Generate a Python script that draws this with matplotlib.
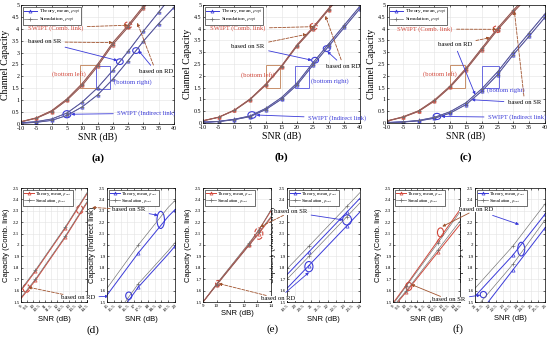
import numpy as np
import matplotlib
matplotlib.use("Agg")
import matplotlib.pyplot as plt
from matplotlib.patches import Ellipse, Rectangle
from matplotlib.lines import Line2D
from matplotlib.ticker import FormatStrFormatter

plt.rcParams['font.family'] = ['Liberation Serif', 'DejaVu Serif']
plt.rcParams['mathtext.fontset'] = 'stix'

W, H = 550, 349

RED = '#d2473a'
BROWN = '#a0522d'
BLUE = '#3a3ad8'
GREY = '#6e6e6e'
BOX = '#c8906a'

# full-range panels (a)-(c)
snr = [-10, -5, 0, 5, 10, 15, 20, 25, 30, 35, 40]

a_comb_sr = [0.10, 0.26, 0.56, 1.05, 1.70, 2.50, 3.42, 4.15, 4.95, 5.80, 6.60]
a_comb_rd = [0.09, 0.24, 0.52, 1.00, 1.62, 2.42, 3.34, 4.07, 4.87, 5.70, 6.50]
a_ind_sr = [0.05, 0.10, 0.21, 0.46, 0.92, 1.52, 2.25, 3.05, 3.90, 4.70, 5.50]
a_ind_rd = [0.03, 0.07, 0.15, 0.36, 0.72, 1.22, 1.88, 2.66, 3.48, 4.22, 4.90]

b_comb_sr = [0.10, 0.25, 0.55, 1.02, 1.65, 2.42, 3.32, 4.05, 4.85, 5.70, 6.50]
b_comb_rd = [0.09, 0.24, 0.53, 0.99, 1.61, 2.38, 3.27, 4.00, 4.80, 5.60, 6.40]
b_ind_sr = [0.03, 0.07, 0.16, 0.30, 0.62, 1.08, 1.70, 2.55, 3.35, 4.15, 4.95]
b_ind_rd = [0.03, 0.06, 0.14, 0.27, 0.57, 1.01, 1.62, 2.45, 3.25, 4.05, 4.85]

c_comb_rd = [0.09, 0.26, 0.52, 0.97, 1.57, 2.32, 3.17, 4.02, 4.78, 5.50, 6.20]
c_comb_sr = [0.08, 0.24, 0.49, 0.93, 1.52, 2.26, 3.10, 3.95, 4.70, 5.40, 6.10]
c_ind_rd = [0.02, 0.05, 0.11, 0.24, 0.48, 0.86, 1.45, 2.17, 3.02, 3.82, 4.62]
c_ind_sr = [0.02, 0.04, 0.09, 0.20, 0.42, 0.78, 1.35, 2.05, 2.90, 3.68, 4.48]

# zoomed panels (d)-(f)
d_comb_x = [9.0, 10.2, 12.7, 14.5]
d_comb_sr_th = [1.60, 1.77, 2.15, 2.45]
d_comb_sr_sim = [1.61, 1.78, 2.16, 2.46]
d_comb_rd_th = [1.53, 1.69, 2.07, 2.37]
d_comb_rd_sim = [1.54, 1.70, 2.08, 2.38]

d_ind_x = [15.0, 17.3, 19.5, 20.0]
d_ind_sr_sim = [1.62, 2.00, 2.33, 2.39]
d_ind_sr_th = [1.56, 1.93, 2.25, 2.31]
d_ind_rd_sim = [1.28, 1.66, 1.95, 2.02]
d_ind_rd_th = [1.25, 1.63, 1.92, 1.99]

e_comb_x = [9.0, 10.0, 12.4, 13.1, 14.0]
e_comb_sr_th = [1.50, 1.655, 2.01, 2.13, 2.30]
e_comb_sr_sim = [1.50, 1.66, 2.02, 2.13, 2.31]
e_comb_rd_th = [1.50, 1.65, 2.00, 2.10, 2.24]
e_comb_rd_sim = [1.50, 1.65, 2.00, 2.11, 2.25]

e_ind_x = [19.5, 20.85, 23.2, 24.0]
e_ind_sr_sim = [1.79, 1.99, 2.34, 2.46]
e_ind_sr_th = [1.74, 1.94, 2.29, 2.41]
e_ind_rd_sim = [1.70, 1.90, 2.25, 2.37]
e_ind_rd_th = [1.62, 1.82, 2.17, 2.29]

f_comb_x = [9.0, 10.1, 12.7, 14.5]
f_comb_rd_th = [1.49, 1.65, 2.04, 2.31]
f_comb_rd_sim = [1.48, 1.64, 2.02, 2.29]
f_comb_sr_th = [1.45, 1.59, 1.94, 2.18]
f_comb_sr_sim = [1.46, 1.60, 1.96, 2.21]

f_ind_x = [21.0, 23.7, 26.0]
f_ind_rd_sim = [1.62, 1.99, 2.36]
f_ind_rd_th = [1.55, 1.91, 2.27]
f_ind_sr_sim = [1.44, 1.83, 2.22]
f_ind_sr_th = [1.35, 1.78, 2.15]


def px_axes(fig, left, top, right, bottom):
    """Axes placed by pixel edges (y measured from the top)."""
    return fig.add_axes([left / W, 1 - bottom / H, (right - left) / W, (bottom - top) / H])


def style(ax, fs):
    ax.grid(True, color='#e3e3e3', lw=0.4)
    ax.set_axisbelow(True)
    ax.tick_params(direction='in', length=1.5, width=0.4, labelsize=fs, pad=1.2,
                   top=True, right=True)
    for s in ax.spines.values():
        s.set_linewidth(0.5)
    ax.yaxis.set_major_formatter(FormatStrFormatter('%g'))
    ax.xaxis.set_major_formatter(FormatStrFormatter('%g'))


def legend(ax, color, fs, hl):
    handles = [Line2D([], [], color=color, lw=0.7, marker='^', ms=2.2, mfc='none', mew=0.5),
               Line2D([], [], color=GREY, lw=0.5, marker='+', ms=2.2, mew=0.5)]
    labels = [r'Theory, mean, $\rho_{opt}$', r'Simulation, $\rho_{opt}$']
    lg = ax.legend(handles, labels, loc='upper left', fontsize=fs, frameon=True,
                   fancybox=False, edgecolor='black', framealpha=1, borderpad=0.2,
                   handlelength=hl, handletextpad=0.4, labelspacing=0.0,
                   borderaxespad=0.35)
    lg.get_frame().set_linewidth(0.4)


def series(ax, x, y, color, kind, every=None):
    if kind == 'th':
        ax.plot(x, y, color=color, lw=0.7, marker='^', ms=2.3, mfc='none', mew=0.5,
                markevery=every)
    else:
        ax.plot(x, y, color=GREY, lw=0.45, marker='+', ms=2.5, mew=0.45, markevery=every)


def ring(ax, x, y, w, h, color, ls='-'):
    ax.add_patch(Ellipse((x, y), w, h, fill=False, ec=color, lw=0.8, ls=ls, clip_on=False))


def pointer(ax, text, xy, xytext, color, ls='-', tcolor='black', tc=None, fs=4.8,
            white=False):
    box = dict(fc='white', ec='none', pad=0.2) if white else None
    ax.annotate(text, xy=xy, xytext=xytext, textcoords=tc if tc is not None else 'data',
                color=tcolor, fontsize=fs, va='center', annotation_clip=False, bbox=box,
                zorder=6,
                arrowprops=dict(arrowstyle='-|>', color=color, lw=0.6, ls=ls,
                                mutation_scale=4, shrinkA=1, shrinkB=0))


def top_panel(ax, comb_sr, comb_rd, ind_sr, ind_rd, tag):
    for y in (comb_sr, comb_rd):
        series(ax, snr, y, RED, 'th')
        series(ax, snr, y, RED, 'sim')
    for y in (ind_sr, ind_rd):
        series(ax, snr, y, BLUE, 'th')
        series(ax, snr, y, BLUE, 'sim')
    ax.set_xlim(-10, 40)
    ax.set_ylim(0, 5)
    ax.set_xticks(np.arange(-10, 41, 5))
    ax.set_yticks(np.arange(0, 5.01, 0.5))
    style(ax, 4.3)
    legend(ax, BLUE, 3.8, 2.4)
    ax.set_xlabel('SNR (dB)', fontsize=7, labelpad=1)
    ax.set_ylabel('Channel Capacity', fontsize=7, labelpad=1)
    ax.text(0.5, -0.29, tag, transform=ax.transAxes, ha='center', va='center',
            fontsize=8, fontweight='bold')


def zoom_panel(ax, x, lines, color, xlim, xticks, rot, every):
    for y, kind in lines:
        series(ax, x, y, color, kind, every)
    ax.set_xlim(*xlim)
    ax.set_ylim(1.5, 2.5)
    ax.set_xticks(xticks)
    ax.set_yticks(np.arange(1.5, 2.501, 0.1))
    style(ax, 3.6)
    if rot:
        plt.setp(ax.get_xticklabels(), rotation=45, ha='right', rotation_mode='anchor')
    legend(ax, color, 3.3, 2.2)
    ax.set_xlabel('SNR (dB)', fontsize=5.5, family='Liberation Sans', labelpad=2)


fig = plt.figure(figsize=(W / 100, H / 100), dpi=100)

# ---------------- (a) ----------------
ax = px_axes(fig, 21, 5, 174, 124)
top_panel(ax, a_comb_sr, a_comb_rd, a_ind_sr, a_ind_rd, '(a)')
ring(ax, 25, np.interp(25, snr, a_comb_sr), 2.4, 0.28, RED, '--')
ring(ax, 22.3, np.interp(22.3, snr, a_ind_sr), 2.2, 0.24, BLUE)
ring(ax, 27.6, np.interp(27.6, snr, a_ind_rd), 2.2, 0.24, BLUE)
ring(ax, 5, np.interp(5, snr, a_ind_sr) - 0.05, 2.6, 0.3, BLUE)
pointer(ax, 'SWIPT (Comb. link)', (25, np.interp(25, snr, a_comb_sr)), (-7.8, 4.05),
        BROWN, '--', RED)
pointer(ax, 'based on SR', (20, np.interp(20, snr, a_comb_sr)), (-7.8, 3.45), BROWN, '--')
pointer(ax, 'based on SR', (21.5, np.interp(22.3, snr, a_ind_sr) + 0.05), (-7.8, 3.45),
        BLUE, tcolor='none')
pointer(ax, 'based on RD', (28, np.interp(28, snr, a_comb_rd) - 0.3), (28.5, 2.2), BROWN, '--')
pointer(ax, 'based on RD', (28.4, np.interp(27.6, snr, a_ind_rd)), (28.5, 2.2),
        BLUE, tcolor='none')
pointer(ax, 'SWIPT (Indirect link)', (6.4, np.interp(5, snr, a_ind_sr) - 0.05), (21.5, 0.45),
        BLUE, tcolor=BLUE)
ax.add_patch(Rectangle((9.3, 1.5), 5.3, 0.97, fill=False, ec=BOX, lw=0.7))
ax.text(5.5, 2.08, '(bottom left)', color=RED, fontsize=4.8, ha='center', va='center')
ax.add_patch(Rectangle((14.6, 1.45), 4.4, 1.0, fill=False, ec='#6a6ae0', lw=0.7))
ax.text(20.5, 1.78, '(bottom right)', color=BLUE, fontsize=4.8, va='center')

# ---------------- (b) ----------------
ax = px_axes(fig, 203, 5, 360, 123)
top_panel(ax, b_comb_sr, b_comb_rd, b_ind_sr, b_ind_rd, '(b)')
ring(ax, 25.2, np.interp(25.2, snr, b_comb_sr), 2.4, 0.28, RED, '--')
ring(ax, 25.7, np.interp(25.7, snr, b_ind_sr), 2.2, 0.24, BLUE)
ring(ax, 29.4, np.interp(29.4, snr, b_ind_rd), 2.2, 0.24, BLUE)
ring(ax, 5.6, np.interp(5.6, snr, b_ind_sr), 2.6, 0.28, BLUE)
pointer(ax, 'SWIPT (Comb. link)', (25.2, np.interp(25.2, snr, b_comb_sr)), (-7.8, 4.0),
        BROWN, '--', RED)
pointer(ax, 'based on SR', (23, np.interp(23, snr, b_comb_sr)), (-1.0, 3.25), BROWN, '--')
pointer(ax, 'based on SR', (24.6, np.interp(25.7, snr, b_ind_sr)), (-1.0, 3.25),
        BLUE, tcolor='none')
pointer(ax, 'based on RD', (29, np.interp(29, snr, b_comb_rd) - 0.1), (29.3, 2.4), BROWN, '--')
pointer(ax, 'based on RD', (29.6, np.interp(29.4, snr, b_ind_rd) - 0.12), (29.3, 2.4),
        BLUE, tcolor='none')
pointer(ax, 'SWIPT (Indirect link)', (7.0, np.interp(5.6, snr, b_ind_sr)), (23.5, 0.21),
        BLUE, tcolor=BLUE)
ax.add_patch(Rectangle((10.2, 1.5), 4.2, 0.95, fill=False, ec=BOX, lw=0.7))
ax.text(7.5, 2.05, '(bottom left)', color=RED, fontsize=4.8, ha='center', va='center')
ax.add_patch(Rectangle((19.3, 1.48), 4.3, 0.92, fill=False, ec='#6a6ae0', lw=0.7))
ax.text(24.3, 1.76, '(bottom right)', color=BLUE, fontsize=4.8, va='center')

# ---------------- (c) ----------------
ax = px_axes(fig, 387, 5, 545, 123)
top_panel(ax, c_comb_sr, c_comb_rd, c_ind_sr, c_ind_rd, '(c)')
ring(ax, 24.7, np.interp(24.7, snr, c_comb_rd), 2.4, 0.28, RED, '--')
ring(ax, 5.8, np.interp(5.8, snr, c_ind_rd), 2.4, 0.26, BLUE)
pointer(ax, 'SWIPT (Comb. link)', (24.7, np.interp(24.7, snr, c_comb_rd)), (-6.8, 3.98),
        BROWN, '--', RED)
pointer(ax, 'based on RD', (22.6, np.interp(22.6, snr, c_comb_rd)), (6.0, 3.32), BROWN, '--')
pointer(ax, 'based on RD', (17.9, np.interp(17.9, snr, c_ind_rd)), (6.0, 3.32),
        BLUE, tcolor='none')
pointer(ax, 'based on SR', (30.3, np.interp(30.3, snr, c_comb_sr)), (28.3, 0.86), BROWN, '--')
pointer(ax, 'based on SR', (16.8, np.interp(16.8, snr, c_ind_sr)), (28.3, 0.86),
        BLUE, tcolor='none')
pointer(ax, 'SWIPT (Indirect link)', (7.2, np.interp(5.8, snr, c_ind_rd)), (22.0, 0.24),
        BLUE, tcolor=BLUE)
ax.add_patch(Rectangle((9.8, 1.5), 4.9, 0.95, fill=False, ec=BOX, lw=0.7))
ax.text(6.8, 2.08, '(bottom left)', color=RED, fontsize=4.8, ha='center', va='center')
ax.add_patch(Rectangle((20.0, 1.5), 5.3, 0.9, fill=False, ec='#6a6ae0', lw=0.7))
ax.text(21.5, 1.38, '(bottom right)', color=BLUE, fontsize=4.8, va='center')

# ---------------- (d) ----------------
dl = px_axes(fig, 21, 188, 87, 302)
zoom_panel(dl, d_comb_x, [(d_comb_sr_th, 'th'), (d_comb_sr_sim, 'sim'),
                          (d_comb_rd_th, 'th'), (d_comb_rd_sim, 'sim')],
           RED, (9, 14.5), np.arange(9, 14.51, 0.5), True, [1, 2])
dl.set_ylabel('Capacity (Comb. link)', fontsize=5.5, family='Liberation Sans', labelpad=2)
dr = px_axes(fig, 107, 188, 175, 302)
zoom_panel(dr, d_ind_x, [(d_ind_sr_sim, 'sim'), (d_ind_sr_th, 'th'),
                         (d_ind_rd_sim, 'sim'), (d_ind_rd_th, 'th')],
           BLUE, (15, 20), np.arange(15, 20.01, 0.5), True, [1, 3])
dr.set_ylabel('Capacity (Indirect link)', fontsize=5.5, family='Liberation Sans', labelpad=2)
fig.text(93 / W, 1 - 330 / H, '(d)', ha='center', va='center', fontsize=8)

ring(dl, 9.45, np.interp(9.45, d_comb_x, d_comb_rd_th) + 0.03, 0.55, 0.07, RED, '--')
ring(dl, 13.9, np.interp(13.9, d_comb_x, d_comb_sr_th) - 0.04, 0.55, 0.07, RED, '--')
ring(dr, 18.95, 2.22, 0.55, 0.15, BLUE)
ring(dr, 16.6, 1.555, 0.45, 0.065, BLUE)
pointer(dl, 'based on RD', (9.6, np.interp(9.6, d_comb_x, d_comb_rd_th) + 0.02),
        (12.3, 1.54), BROWN, '--', white=True)
pointer(dl, 'based on RD', (16.3, 1.55), (12.3, 1.54), BLUE, tcolor='none')
pointer(dr, 'based on SR', (13.9, np.interp(13.9, d_comb_x, d_comb_sr_th) - 0.02),
        (15.35, 2.31), BROWN, '--', tc=dr.transData, white=True)
pointer(dr, 'based on SR', (18.75, 2.26), (15.35, 2.31), BLUE, tcolor='none')

# ---------------- (e) ----------------
el = px_axes(fig, 203, 188, 271, 302)
zoom_panel(el, e_comb_x, [(e_comb_sr_th, 'th'), (e_comb_sr_sim, 'sim'),
                          (e_comb_rd_th, 'th'), (e_comb_rd_sim, 'sim')],
           RED, (9, 14), np.arange(9, 14.01, 1), False, [1, 2, 3])
el.set_ylabel('Capacity (Comb. link)', fontsize=5.5, family='Liberation Sans', labelpad=2)
er = px_axes(fig, 287, 188, 360, 302)
zoom_panel(er, e_ind_x, [(e_ind_sr_sim, 'sim'), (e_ind_sr_th, 'th'),
                         (e_ind_rd_sim, 'sim'), (e_ind_rd_th, 'th')],
           BLUE, (19.5, 24), np.arange(19.5, 24.01, 0.5), True, [1, 2])
er.set_ylabel('Capacity (Indirect link)', fontsize=5.5, family='Liberation Sans', labelpad=2)
el.set_zorder(1)  # callouts of the left axes sit above the right axes' label
fig.text(273 / W, 1 - 329 / H, '(e)', ha='center', va='center', fontsize=8)

ring(el, 13.1, np.interp(13.1, e_comb_x, e_comb_sr_th) - 0.03, 0.6, 0.1, RED, '--')
ring(el, 10.1, np.interp(10.1, e_comb_x, e_comb_rd_th), 0.35, 0.05, RED, '--')
ring(er, 23.2, np.interp(23.2, e_ind_x, e_ind_rd_sim) - 0.03, 0.55, 0.09, BLUE)
ring(er, 20.85, np.interp(20.85, e_ind_x, e_ind_rd_th) - 0.01, 0.5, 0.09, BLUE)
pointer(el, 'based on SR', (13.2, np.interp(13.2, e_comb_x, e_comb_sr_th) + 0.01),
        (14.2, 2.29), BROWN, '--', white=True)
pointer(er, 'based on SR', (22.95, 2.22), (14.2, 2.29), BLUE, tcolor='none', tc=el.transData)
pointer(el, 'based on RD', (10.15, np.interp(10.15, e_comb_x, e_comb_rd_th) - 0.01),
        (13.3, 1.53), BROWN, '--', white=True)
pointer(er, 'based on RD', (20.85, 1.76), (13.3, 1.53), BLUE, tcolor='none', tc=el.transData)

# ---------------- (f) ----------------
fl = px_axes(fig, 393, 188, 460, 302)
zoom_panel(fl, f_comb_x, [(f_comb_rd_th, 'th'), (f_comb_rd_sim, 'sim'),
                          (f_comb_sr_th, 'th'), (f_comb_sr_sim, 'sim')],
           RED, (9, 14.5), np.arange(9, 14.51, 0.5), True, [1, 2])
fl.set_ylabel('Capacity (Comb. link)', fontsize=5.5, family='Liberation Sans', labelpad=2)
fr = px_axes(fig, 475, 188, 545, 302)
zoom_panel(fr, f_ind_x, [(f_ind_rd_sim, 'sim'), (f_ind_rd_th, 'th'),
                         (f_ind_sr_sim, 'sim'), (f_ind_sr_th, 'th')],
           BLUE, (21, 26), np.arange(21, 26.01, 0.5), True, [1, 2])
fr.set_ylabel('Capacity (Indirect link)', fontsize=5.5, family='Liberation Sans', labelpad=2)
fl.set_zorder(1)
fig.text(458 / W, 1 - 329 / H, '(f)', ha='center', va='center', fontsize=8)

ring(fl, 12.9, np.interp(12.9, f_comb_x, f_comb_rd_th) + 0.04, 0.5, 0.08, RED)
ring(fl, 10.3, np.interp(10.3, f_comb_x, f_comb_sr_th) + 0.02, 0.5, 0.07, RED)
ring(fr, 24.3, np.interp(24.3, f_ind_x, f_ind_rd_th) - 0.04, 0.5, 0.12, BLUE)
ring(fr, 21.6, 1.565, 0.45, 0.055, BLUE)
pointer(fl, 'based on RD', (13.05, np.interp(13.05, f_comb_x, f_comb_rd_th) + 0.07),
        (14.4, 2.31), BROWN, white=True)
pointer(fr, 'based on RD', (24.15, 2.18), (14.4, 2.31), BLUE, tcolor='none', tc=fl.transData)
pointer(fl, 'based on SR', (10.5, np.interp(10.5, f_comb_x, f_comb_sr_th) + 0.01),
        (12.2, 1.52), BROWN, white=True)
pointer(fr, 'based on SR', (21.38, 1.56), (12.2, 1.52), BLUE, tcolor='none', tc=fl.transData)

fig.savefig('out.png', dpi=100, facecolor='white')
